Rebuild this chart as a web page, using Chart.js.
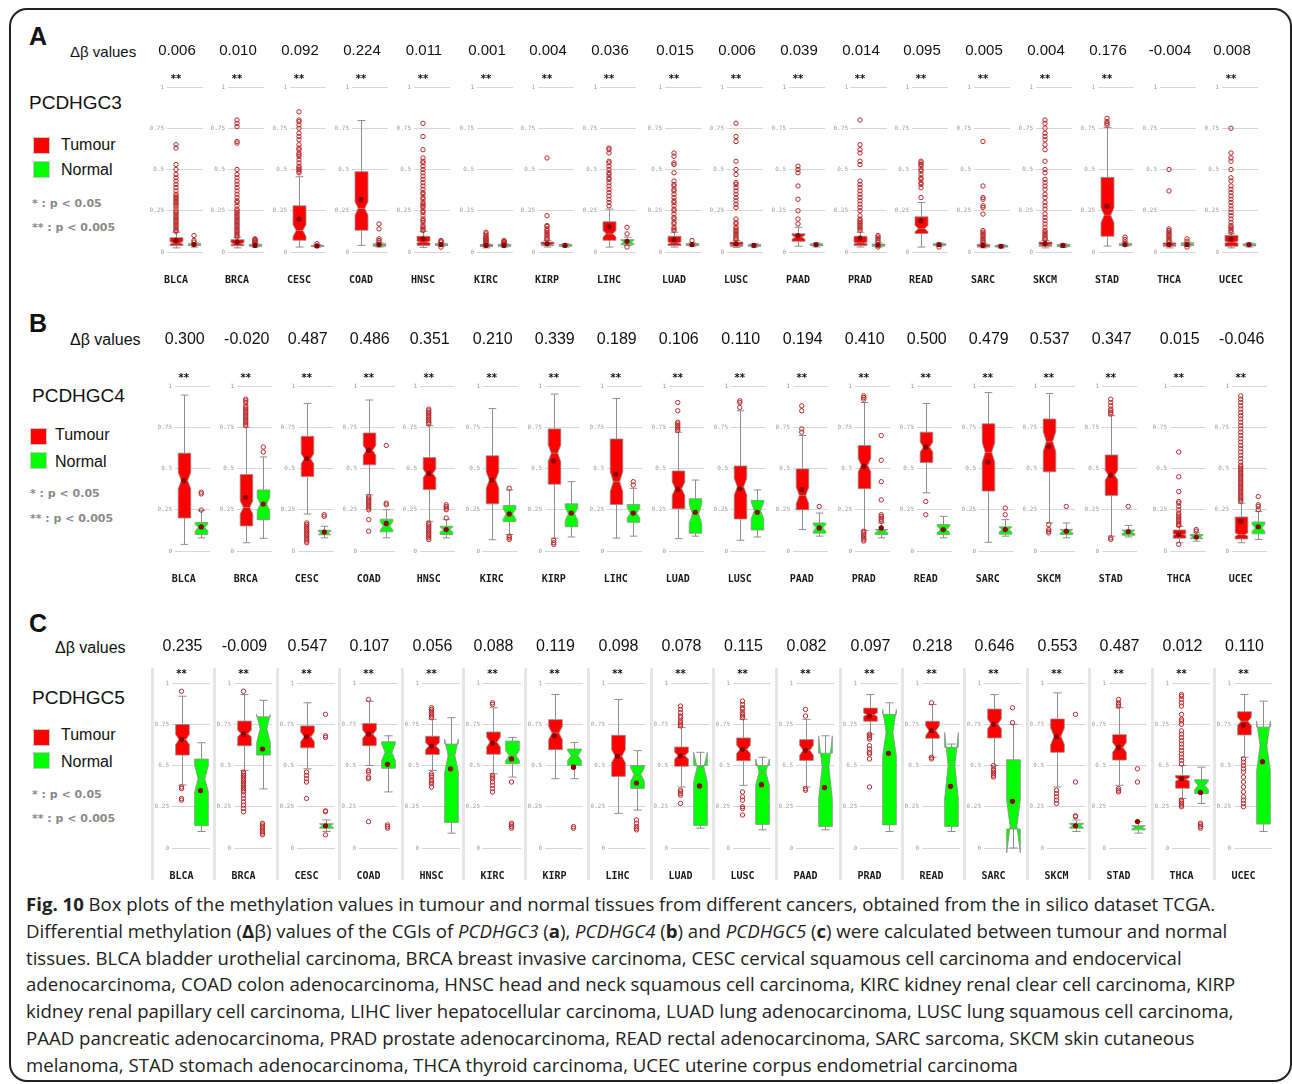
<!DOCTYPE html>
<html>
<head>
<meta charset="utf-8">
<script src="https://cdn.jsdelivr.net/npm/chart.js@4.4.1/dist/chart.umd.min.js"></script>
<style>
  html, body { margin: 0; padding: 0; background: #fff; }
  body { width: 1292px; height: 1084px; position: relative; overflow: hidden; font-family: "Liberation Sans", Arial, sans-serif; color: #111; }
  #frame { position: absolute; left: 9px; top: 8px; width: 1283px; height: 1074px; border: 2px solid #222; border-radius: 18px; box-sizing: border-box; }
  .t { position: absolute; white-space: nowrap; line-height: 1; transform: translateY(-50%); }
  .letter { font-weight: bold; font-size: 25px; }
  .gene { font-size: 19px; }
  .leg { font-size: 16px; }
  .pv { font-size: 11px; font-weight: bold; color: #8a8a8a; font-family: "DejaVu Sans", sans-serif; }
  .sq { position: absolute; width: 17px; height: 17px; box-sizing: border-box; border: 1px solid #c8c8c8; }
  #caption { position: absolute; left: 26px; top: 891px; font-family: "Open Sans", sans-serif; font-size: 18.6px; line-height: 26.8px; color: #222; white-space: nowrap; }
  canvas { position: absolute; }
</style>
</head>
<body>
<div id="frame"></div>

<!-- Panel A -->
<div class="t letter" style="left:29px;top:36px;">A</div>
<div class="t" style="left:70px;top:51px;font-size:15px;">Δβ values</div>
<div class="t gene" style="left:29px;top:102px;">PCDHGC3</div>
<div class="sq" style="left:33px;top:137px;background:#ff0000;"></div>
<div class="t leg" style="left:61px;top:145px;">Tumour</div>
<div class="sq" style="left:33px;top:161px;background:#00ff00;"></div>
<div class="t leg" style="left:61px;top:170px;">Normal</div>
<div class="t pv" style="left:32px;top:203px;">* : p &lt; 0.05</div>
<div class="t pv" style="left:32px;top:227px;">** : p &lt; 0.005</div>

<!-- Panel B -->
<div class="t letter" style="left:29px;top:323px;">B</div>
<div class="t" style="left:70px;top:340px;font-size:16px;">Δβ values</div>
<div class="t gene" style="left:32px;top:395px;">PCDHGC4</div>
<div class="sq" style="left:30px;top:428px;background:#ff0000;"></div>
<div class="t leg" style="left:55px;top:435px;">Tumour</div>
<div class="sq" style="left:30px;top:452px;background:#00ff00;"></div>
<div class="t leg" style="left:55px;top:462px;">Normal</div>
<div class="t pv" style="left:30px;top:493px;">* : p &lt; 0.05</div>
<div class="t pv" style="left:30px;top:518px;">** : p &lt; 0.005</div>

<!-- Panel C -->
<div class="t letter" style="left:29px;top:623px;">C</div>
<div class="t" style="left:55px;top:648px;font-size:16px;">Δβ values</div>
<div class="t gene" style="left:32px;top:697px;">PCDHGC5</div>
<div class="sq" style="left:33px;top:729px;background:#ff0000;"></div>
<div class="t leg" style="left:61px;top:735px;">Tumour</div>
<div class="sq" style="left:33px;top:752px;background:#00ff00;"></div>
<div class="t leg" style="left:61px;top:762px;">Normal</div>
<div class="t pv" style="left:32px;top:794px;">* : p &lt; 0.05</div>
<div class="t pv" style="left:32px;top:818px;">** : p &lt; 0.005</div>

<div id="caption">
<div><b>Fig. 10</b> Box plots of the methylation values in tumour and normal tissues from different cancers, obtained from the in silico dataset TCGA.</div>
<div>Differential methylation (<b>Δ</b>β) values of the CGIs of <i>PCDHGC3</i> (<b>a</b>), <i>PCDHGC4</i> (<b>b</b>) and <i>PCDHGC5</i> (<b>c</b>) were calculated between tumour and normal</div>
<div>tissues. BLCA bladder urothelial carcinoma, BRCA breast invasive carcinoma, CESC cervical squamous cell carcinoma and endocervical</div>
<div>adenocarcinoma, COAD colon adenocarcinoma, HNSC head and neck squamous cell carcinoma, KIRC kidney renal clear cell carcinoma, KIRP</div>
<div>kidney renal papillary cell carcinoma, LIHC liver hepatocellular carcinoma, LUAD lung adenocarcinoma, LUSC lung squamous cell carcinoma,</div>
<div>PAAD pancreatic adenocarcinoma, PRAD prostate adenocarcinoma, READ rectal adenocarcinoma, SARC sarcoma, SKCM skin cutaneous</div>
<div>melanoma, STAD stomach adenocarcinoma, THCA thyroid carcinoma, UCEC uterine corpus endometrial carcinoma</div>
</div>

<script>
// ---------- data ----------
const cancers = ['BLCA','BRCA','CESC','COAD','HNSC','KIRC','KIRP','LIHC','LUAD','LUSC','PAAD','PRAD','READ','SARC','SKCM','STAD','THCA','UCEC'];
const groups = ['Tumour', 'Normal'];
const yTicks = [0, 0.25, 0.5, 0.75, 1];

// Δβ (tumour - normal) per cancer
const deltaC3 = [0.006, 0.010, 0.092, 0.224, 0.011, 0.001, 0.004, 0.036, 0.015, 0.006, 0.039, 0.014, 0.095, 0.005, 0.004, 0.176, -0.004, 0.008];
const deltaC4 = [0.300, -0.020, 0.487, 0.486, 0.351, 0.210, 0.339, 0.189, 0.106, 0.110, 0.194, 0.410, 0.500, 0.479, 0.537, 0.347, 0.015, -0.046];
const deltaC5 = [0.235, -0.009, 0.547, 0.107, 0.056, 0.088, 0.119, 0.098, 0.078, 0.115, 0.082, 0.097, 0.218, 0.646, 0.553, 0.487, 0.012, 0.110];

// significance marks
const sigC3 = ['**','**','**','**','**','**','**','**','**','**','**','**','**','**','**','**','','**'];
const sigC4 = ['**','**','**','**','**','**','**','**','**','**','**','**','**','**','**','**','**','**'];
const sigC5 = ['**','**','**','**','**','**','**','**','**','**','**','**','**','**','**','**','**','**'];

// box statistics: [lower whisker, Q1, median, Q3, upper whisker, mean, notch half-height]
const tumourC3 = [
  [0.025,0.04,0.055,0.087,0.12,0.07,0.008],
  [0.025,0.038,0.05,0.075,0.09,0.06,0.006],
  [0.03,0.071,0.13,0.28,0.456,0.2,0.035],
  [0.04,0.132,0.264,0.487,0.797,0.318,0.04],
  [0.028,0.04,0.06,0.095,0.125,0.08,0.006],
  [0.025,0.033,0.037,0.045,0.05,0.04,0.003],
  [0.03,0.04,0.045,0.06,0.07,0.05,0.004],
  [0.03,0.071,0.11,0.183,0.26,0.152,0.02],
  [0.03,0.04,0.055,0.095,0.12,0.075,0.006],
  [0.028,0.035,0.042,0.06,0.07,0.05,0.003],
  [0.035,0.065,0.09,0.11,0.15,0.1,0.012],
  [0.03,0.04,0.055,0.095,0.12,0.085,0.005],
  [0.03,0.112,0.142,0.213,0.3,0.19,0.02],
  [0.025,0.03,0.035,0.045,0.05,0.04,0.003],
  [0.025,0.035,0.042,0.06,0.07,0.05,0.003],
  [0.036,0.095,0.223,0.452,0.755,0.278,0.045],
  [0.025,0.035,0.042,0.055,0.06,0.045,0.003],
  [0.025,0.035,0.06,0.1,0.11,0.08,0.006]
];
const normalC3 = [
  [0.03,0.04,0.045,0.05,0.055,0.045,0.003],
  [0.03,0.035,0.04,0.045,0.05,0.04,0.002],
  [0.03,0.033,0.037,0.04,0.045,0.037,0.002],
  [0.03,0.035,0.042,0.05,0.055,0.045,0.003],
  [0.035,0.04,0.045,0.05,0.055,0.045,0.003],
  [0.03,0.035,0.04,0.045,0.05,0.04,0.002],
  [0.03,0.035,0.04,0.045,0.05,0.04,0.002],
  [0.04,0.045,0.06,0.075,0.09,0.065,0.01],
  [0.035,0.04,0.045,0.05,0.055,0.045,0.003],
  [0.03,0.035,0.04,0.045,0.05,0.04,0.002],
  [0.03,0.038,0.042,0.05,0.055,0.045,0.003],
  [0.03,0.035,0.04,0.048,0.055,0.042,0.003],
  [0.035,0.04,0.045,0.05,0.055,0.045,0.002],
  [0.025,0.03,0.035,0.04,0.045,0.035,0.002],
  [0.028,0.033,0.038,0.045,0.05,0.04,0.002],
  [0.035,0.04,0.045,0.05,0.055,0.045,0.003],
  [0.035,0.04,0.047,0.055,0.06,0.045,0.004],
  [0.03,0.037,0.042,0.05,0.055,0.045,0.003]
];
const tumourOutC3 = [
  [0.125,0.13,0.14,0.15,0.16,0.17,0.18,0.19,0.2,0.21,0.22,0.23,0.24,0.25,0.265,0.28,0.29,0.3,0.31,0.32,0.33,0.34,0.35,0.37,0.39,0.41,0.43,0.45,0.47,0.5,0.53,0.63,0.65],
  [0.09,0.1,0.11,0.12,0.13,0.14,0.15,0.16,0.17,0.18,0.19,0.2,0.21,0.22,0.23,0.24,0.25,0.26,0.28,0.3,0.31,0.33,0.35,0.37,0.39,0.41,0.43,0.45,0.47,0.5,0.66,0.67,0.76,0.78,0.8],
  [0.48,0.49,0.5,0.51,0.52,0.54,0.56,0.58,0.59,0.6,0.62,0.63,0.65,0.68,0.7,0.72,0.75,0.77,0.79,0.8,0.85],
  [],
  [0.13,0.14,0.15,0.16,0.18,0.19,0.2,0.22,0.24,0.25,0.27,0.28,0.29,0.3,0.32,0.33,0.35,0.36,0.38,0.4,0.42,0.44,0.46,0.48,0.5,0.52,0.54,0.55,0.57,0.62,0.7,0.78],
  [0.055,0.06,0.065,0.07,0.075,0.08,0.085,0.09,0.1,0.11,0.12],
  [0.075,0.08,0.09,0.1,0.11,0.12,0.13,0.14,0.155,0.16,0.22,0.57],
  [0.28,0.3,0.32,0.34,0.36,0.38,0.4,0.42,0.44,0.45,0.47,0.48,0.5,0.52,0.54,0.55,0.6,0.62,0.63],
  [0.13,0.14,0.15,0.17,0.18,0.2,0.21,0.23,0.25,0.26,0.28,0.3,0.31,0.33,0.35,0.37,0.38,0.4,0.41,0.43,0.48,0.53,0.54,0.58,0.6],
  [0.075,0.08,0.09,0.1,0.11,0.12,0.13,0.14,0.15,0.17,0.18,0.2,0.27,0.29,0.31,0.33,0.35,0.37,0.39,0.41,0.42,0.47,0.5,0.55,0.67,0.7,0.78],
  [0.17,0.2,0.25,0.32,0.4,0.48,0.5,0.52],
  [0.13,0.14,0.15,0.16,0.17,0.18,0.19,0.2,0.22,0.25,0.27,0.29,0.31,0.33,0.35,0.37,0.39,0.41,0.43,0.53,0.55,0.6,0.62,0.65,0.8],
  [0.33,0.39,0.41,0.42,0.44,0.45,0.47,0.49,0.5,0.52,0.53,0.54,0.55],
  [0.055,0.06,0.07,0.08,0.09,0.1,0.11,0.12,0.13,0.23,0.27,0.28,0.32,0.33,0.4,0.67],
  [0.075,0.08,0.09,0.1,0.11,0.12,0.13,0.15,0.17,0.19,0.21,0.23,0.26,0.28,0.3,0.33,0.35,0.38,0.4,0.42,0.44,0.48,0.5,0.55,0.62,0.65,0.68,0.7,0.72,0.75,0.78,0.8],
  [0.77,0.78,0.79,0.81],
  [0.065,0.07,0.08,0.09,0.1,0.11,0.12,0.13,0.14,0.37,0.5],
  [0.12,0.13,0.14,0.15,0.16,0.18,0.2,0.22,0.24,0.26,0.28,0.3,0.32,0.34,0.36,0.38,0.4,0.43,0.45,0.5,0.55,0.57,0.6,0.75]
];
const normalOutC3 = [
  [0.06,0.07,0.1],[0.055,0.06,0.065,0.07,0.075,0.08],[0.05],[0.06,0.07,0.08,0.14,0.17],[0.03,0.06,0.065,0.07],
  [0.05,0.055,0.06,0.065,0.07],[],[0.03,0.11,0.15],[0.07],[],[],[0.03,0.06,0.07,0.08,0.09,0.1],[0.03],[],[],
  [0.06,0.075,0.09],[0.03,0.065,0.08],[]
];

const tumourC4 = [
  [0.04,0.2,0.427,0.593,0.945,0.427,0.05],
  [0.05,0.152,0.264,0.463,0.75,0.325,0.04],
  [0.224,0.451,0.559,0.695,0.894,0.56,0.03],
  [0.34,0.522,0.61,0.715,0.915,0.61,0.03],
  [0.18,0.372,0.47,0.566,0.76,0.47,0.025],
  [0.068,0.286,0.43,0.577,0.863,0.43,0.05],
  [0.078,0.405,0.593,0.74,0.951,0.546,0.05],
  [0.078,0.282,0.42,0.679,0.924,0.464,0.06],
  [0.075,0.256,0.378,0.485,0.72,0.375,0.04],
  [0.065,0.194,0.389,0.515,0.85,0.378,0.05],
  [0.13,0.25,0.337,0.497,0.7,0.372,0.05],
  [0.125,0.378,0.52,0.64,0.9,0.514,0.04],
  [0.353,0.536,0.63,0.72,0.894,0.63,0.03],
  [0.053,0.363,0.598,0.771,0.96,0.539,0.06],
  [0.17,0.48,0.663,0.8,0.955,0.633,0.06],
  [0.09,0.337,0.46,0.582,0.82,0.46,0.03],
  [0.05,0.078,0.1,0.127,0.15,0.1,0.004],
  [0.05,0.073,0.1,0.206,0.29,0.18,0.01]
];
const normalC4 = [
  [0.08,0.1,0.142,0.173,0.245,0.146,0.02],
  [0.077,0.19,0.285,0.37,0.57,0.285,0.04],
  [0.08,0.098,0.11,0.126,0.15,0.115,0.01],
  [0.08,0.116,0.152,0.193,0.25,0.167,0.025],
  [0.08,0.1,0.13,0.15,0.19,0.13,0.015],
  [0.1,0.178,0.225,0.276,0.37,0.225,0.03],
  [0.085,0.147,0.225,0.286,0.42,0.23,0.04],
  [0.09,0.174,0.23,0.282,0.38,0.23,0.03],
  [0.09,0.108,0.225,0.317,0.43,0.235,0.06],
  [0.085,0.127,0.245,0.307,0.37,0.235,0.05],
  [0.09,0.108,0.14,0.17,0.23,0.14,0.02],
  [0.08,0.1,0.12,0.13,0.17,0.14,0.01],
  [0.08,0.1,0.13,0.16,0.21,0.13,0.02],
  [0.09,0.102,0.13,0.147,0.19,0.13,0.015],
  [0.08,0.1,0.12,0.13,0.17,0.12,0.01],
  [0.085,0.096,0.115,0.127,0.155,0.118,0.01],
  [0.06,0.075,0.085,0.1,0.11,0.085,0.008],
  [0.07,0.104,0.14,0.176,0.24,0.147,0.02]
];
const tumourOutC4 = [
  [],
  [0.76,0.77,0.78,0.79,0.8,0.81,0.82,0.83,0.84,0.85,0.86,0.87,0.88,0.9,0.91,0.92],
  [0.05,0.06,0.07,0.08,0.09,0.1,0.11,0.12,0.13,0.14,0.15,0.16,0.17],
  [0.12,0.19,0.25,0.26,0.27,0.28,0.29,0.3,0.31,0.32,0.33],
  [0.07,0.08,0.09,0.1,0.11,0.12,0.13,0.14,0.15,0.16,0.17,0.77,0.78,0.79,0.8,0.81,0.82,0.83,0.84,0.85,0.86],
  [],
  [0.04,0.05,0.065],
  [],
  [0.73,0.74,0.75,0.76,0.77,0.78,0.85,0.9],
  [0.87,0.9,0.91],
  [0.72,0.74,0.85,0.88],
  [0.06,0.07,0.08,0.09,0.1,0.11,0.12,0.92,0.93,0.94],
  [0.22,0.3],
  [],
  [0.11,0.12,0.13,0.16],
  [0.07,0.08,0.83,0.84,0.85,0.86,0.88,0.9,0.92],
  [0.04,0.155,0.16,0.17,0.18,0.19,0.2,0.21,0.22,0.23,0.25,0.27,0.29,0.3,0.36,0.45,0.6],
  [0.3,0.31,0.32,0.33,0.34,0.35,0.36,0.37,0.38,0.39,0.4,0.41,0.42,0.43,0.44,0.45,0.46,0.47,0.48,0.49,0.5,0.51,0.52,0.54,0.56,0.58,0.6,0.62,0.64,0.66,0.68,0.7,0.72,0.74,0.76,0.78,0.8,0.82,0.84,0.86,0.88,0.9,0.92,0.94]
];
const normalOutC4 = [
  [0.248,0.346,0.356],[0.6,0.63],[0.21,0.22],[0.28,0.29,0.64],[0.2,0.25,0.26,0.27,0.28],
  [0.07,0.08,0.09,0.38],[],[0.4,0.42],[],[],[0.27],[0.18,0.19,0.2,0.21,0.22,0.31,0.42,0.55,0.7],
  [],[0.22,0.26],[0.27],[0.27],[0.12,0.13],[0.25,0.27,0.28,0.33]
];

const tumourC5 = [
  [0.382,0.563,0.658,0.748,0.92,0.658,0.03],
  [0.47,0.62,0.694,0.769,0.93,0.69,0.02],
  [0.48,0.607,0.674,0.74,0.88,0.674,0.03],
  [0.5,0.62,0.69,0.755,0.89,0.69,0.025],
  [0.47,0.566,0.618,0.677,0.78,0.618,0.02],
  [0.45,0.568,0.642,0.703,0.85,0.636,0.03],
  [0.42,0.596,0.697,0.778,0.93,0.68,0.04],
  [0.21,0.434,0.556,0.683,0.9,0.556,0.04],
  [0.37,0.495,0.56,0.612,0.73,0.557,0.02],
  [0.38,0.529,0.598,0.667,0.78,0.598,0.025],
  [0.37,0.531,0.592,0.657,0.78,0.592,0.03],
  [0.69,0.768,0.808,0.848,0.93,0.8,0.01],
  [0.55,0.665,0.711,0.768,0.87,0.711,0.03],
  [0.5,0.667,0.752,0.842,0.93,0.75,0.03],
  [0.37,0.58,0.677,0.782,0.94,0.675,0.05],
  [0.38,0.533,0.61,0.687,0.85,0.61,0.03],
  [0.3,0.362,0.416,0.44,0.5,0.42,0.01],
  [0.55,0.685,0.768,0.826,0.93,0.745,0.025]
];
const normalC5 = [
  [0.1,0.135,0.42,0.539,0.638,0.348,0.08],
  [0.358,0.563,0.724,0.795,0.895,0.6,0.085],
  [0.1,0.12,0.135,0.147,0.17,0.135,0.01],
  [0.34,0.483,0.58,0.644,0.68,0.507,0.05],
  [0.09,0.155,0.56,0.63,0.79,0.48,0.1],
  [0.43,0.511,0.56,0.648,0.67,0.54,0.03],
  [0.42,0.501,0.56,0.6,0.64,0.49,0.03],
  [0.23,0.36,0.445,0.5,0.59,0.394,0.04],
  [0.12,0.137,0.49,0.5,0.58,0.376,0.09],
  [0.11,0.143,0.46,0.5,0.55,0.384,0.08],
  [0.11,0.13,0.49,0.575,0.68,0.366,0.19],
  [0.1,0.14,0.7,0.81,0.88,0.574,0.14],
  [0.1,0.131,0.5,0.61,0.63,0.374,0.2],
  [0.0,0.115,0.13,0.535,0.75,0.283,0.16],
  [0.1,0.12,0.135,0.15,0.17,0.135,0.01],
  [0.09,0.11,0.125,0.135,0.16,0.16,0.01],
  [0.27,0.331,0.38,0.414,0.49,0.337,0.025],
  [0.1,0.145,0.62,0.733,0.89,0.523,0.15]
];
const tumourOutC5 = [
  [0.29,0.3,0.36,0.37,0.95],
  [0.22,0.24,0.26,0.28,0.3,0.32,0.34,0.35,0.36,0.37,0.38,0.39,0.4,0.41,0.42,0.43,0.44,0.45,0.46,0.95],
  [0.3,0.4,0.42,0.44,0.46],
  [0.16,0.42,0.43,0.46,0.47,0.9],
  [0.37,0.39,0.4,0.41,0.43,0.44,0.45,0.79,0.8,0.81,0.82,0.83,0.84,0.85],
  [0.34,0.36,0.38,0.4,0.42,0.43,0.44,0.87,0.88],
  [],
  [],
  [0.27,0.32,0.33,0.34,0.35,0.74,0.75,0.76,0.77,0.79,0.8,0.82,0.84,0.86],
  [0.2,0.24,0.25,0.29,0.31,0.34,0.79,0.8,0.81,0.82,0.84,0.85,0.87,0.89],
  [0.35,0.36,0.8,0.84],
  [0.37,0.54,0.57,0.58,0.6,0.62,0.66,0.67,0.68,0.69],
  [0.54,0.55,0.88],
  [0.43,0.44,0.45,0.46,0.47,0.48,0.5],
  [0.27,0.29,0.31,0.33,0.35],
  [0.34,0.35,0.36,0.86,0.87,0.88,0.9],
  [0.25,0.26,0.27,0.28,0.29,0.51,0.53,0.55,0.57,0.59,0.61,0.63,0.65,0.67,0.69,0.71,0.75,0.77,0.78,0.81,0.86,0.88,0.9,0.92,0.93],
  [0.25,0.27,0.29,0.31,0.34,0.37,0.4,0.43,0.46,0.48,0.5,0.52,0.54]
];
const normalOutC5 = [
  [],[0.08,0.09,0.1,0.11,0.12,0.13,0.14,0.15],[0.08,0.22,0.225,0.67,0.68,0.81],[0.12,0.13,0.14],[],
  [0.12,0.13,0.14,0.15,0.4],[0.12,0.13,0.49],[0.11,0.12,0.13,0.15,0.17],[],[],[],[],[],[0.76,0.85],
  [0.19,0.195,0.4,0.81],[0.4,0.48],[0.12,0.13,0.14,0.15],[]
];

// ---------- layout (pixel placement of each small plot) ----------
const AXIS_W = 22, PLOT_H = 165, PAD_TOP = 56, PAD_BOTTOM = 44, RIGHT_PAD = 2;
const panels = [
  { delta: deltaC3, sig: sigC3, tumour: tumourC3, normal: normalC3, tumourOut: tumourOutC3, normalOut: normalOutC3,
    top: 87, plotW: 39, deltaSize: 15, deltaGap: 36, starGap: 8, separators: false,
    lefts: [167,228,290,352,414,477,538,600,665,727,789,851,912,974,1036,1098,1160,1222] },
  { delta: deltaC4, sig: sigC4, tumour: tumourC4, normal: normalC4, tumourOut: tumourOutC4, normalOut: normalOutC4,
    top: 386, plotW: 38, deltaSize: 16, deltaGap: 46, starGap: 8, separators: false,
    lefts: [175,237,298,360,420,483,545,607,669,731,793,855,917,979,1040,1102,1170,1232] },
  { delta: deltaC5, sig: sigC5, tumour: tumourC5, normal: normalC5, tumourOut: tumourOutC5, normalOut: normalOutC5,
    top: 683, plotW: 41, deltaSize: 16, deltaGap: 36, starGap: 9, separators: true,
    lefts: [172,234,297,359,422,483,545,608,671,733,796,860,922,984,1047,1109,1172,1234] }
];

const FILL = ['#ff0000', '#00ff00'];
const EDGE = '#8e8e8e';

// Notched box + whiskers, drawn on the geometry of the floating bars
const notchedBoxes = {
  id: 'notchedBoxes',
  afterDatasetDraw(chart, args) {
    const ds = chart.data.datasets[args.index];
    if (!ds.boxStats) return;
    const ctx = chart.ctx, y = chart.scales.y;
    args.meta.data.forEach((bar, i) => {
      const s = ds.boxStats[i];
      const cx = Math.round(bar.x) + 0.5, hw = bar.width / 2;
      const Y = v => y.getPixelForValue(v);
      const capW = hw * 0.6;
      ctx.save();
      ctx.strokeStyle = EDGE;
      ctx.lineWidth = 1;
      // whiskers and caps
      ctx.beginPath();
      ctx.moveTo(cx, Y(s[0])); ctx.lineTo(cx, Y(s[1]));
      ctx.moveTo(cx, Y(s[3])); ctx.lineTo(cx, Y(s[4]));
      ctx.moveTo(cx - capW, Y(s[0])); ctx.lineTo(cx + capW, Y(s[0]));
      ctx.moveTo(cx - capW, Y(s[4])); ctx.lineTo(cx + capW, Y(s[4]));
      ctx.stroke();
      // notched box
      const yq1 = Y(s[1]), yq3 = Y(s[3]), ym = Y(s[2]);
      const ynl = Y(s[2] - s[6]), ynh = Y(s[2] + s[6]);
      const l = cx - hw, r = cx + hw;
      ctx.beginPath();
      ctx.moveTo(l, yq1); ctx.lineTo(l, ynl); ctx.lineTo(cx - hw / 2, ym); ctx.lineTo(l, ynh); ctx.lineTo(l, yq3);
      ctx.lineTo(r, yq3); ctx.lineTo(r, ynh); ctx.lineTo(cx + hw / 2, ym); ctx.lineTo(r, ynl); ctx.lineTo(r, yq1);
      ctx.closePath();
      ctx.fillStyle = ds.boxColors[i];
      ctx.fill();
      ctx.lineWidth = 0.8;
      ctx.stroke();
      // median
      ctx.beginPath();
      ctx.moveTo(cx - hw / 2, ym); ctx.lineTo(cx + hw / 2, ym);
      ctx.stroke();
      ctx.restore();
    });
  }
};

// Header value, significance stars, cancer label and column separator
const panelText = {
  id: 'panelText',
  beforeDraw(chart, args, o) {
    if (!o.separator) return;
    const { ctx, chartArea } = chart;
    ctx.save();
    ctx.fillStyle = '#e6e6e6';
    ctx.fillRect(chartArea.left - 21, chartArea.top - 15, 3, chartArea.bottom - chartArea.top + 47);
    ctx.restore();
  },
  afterDraw(chart, args, o) {
    const { ctx, chartArea, scales } = chart;
    const xT = scales.x.getPixelForValue(0);
    ctx.save();
    ctx.textAlign = 'center';
    ctx.textBaseline = 'middle';
    ctx.fillStyle = '#111';
    ctx.font = o.deltaSize + 'px "Liberation Sans", Arial, sans-serif';
    ctx.fillText(o.delta, xT + 1, chartArea.top - o.deltaGap);
    if (o.sig) {
      ctx.font = 'bold 10px "DejaVu Sans", sans-serif';
      ctx.fillText(o.sig, xT, chartArea.top - o.starGap);
    }
    ctx.font = 'bold 10px "DejaVu Sans Mono", monospace';
    ctx.fillStyle = '#1a1a1a';
    ctx.fillText(o.label, xT, chartArea.bottom + 28);
    ctx.restore();
  }
};

function miniChart(p, i) {
  const canvas = document.createElement('canvas');
  const w = AXIS_W + p.plotW + RIGHT_PAD;
  const h = PAD_TOP + PLOT_H + PAD_BOTTOM;
  canvas.width = w; canvas.height = h;
  canvas.style.left = (p.lefts[i] - AXIS_W) + 'px';
  canvas.style.top = (p.top - PAD_TOP) + 'px';
  canvas.style.width = w + 'px';
  canvas.style.height = h + 'px';
  document.body.appendChild(canvas);

  const t = p.tumour[i], n = p.normal[i];
  const outliers = [];
  p.tumourOut[i].forEach(v => outliers.push({ x: groups[0], y: v }));
  p.normalOut[i].forEach(v => outliers.push({ x: groups[1], y: v }));

  new Chart(canvas, {
    type: 'bar',
    data: {
      labels: groups,
      datasets: [
        {
          type: 'bar',
          data: [[t[1], t[3]], [n[1], n[3]]],
          boxStats: [t, n],
          boxColors: FILL,
          backgroundColor: 'rgba(0,0,0,0)',
          borderWidth: 0,
          barPercentage: 0.72,
          categoryPercentage: 1,
          order: 3
        },
        {
          type: 'scatter',
          data: outliers,
          pointStyle: 'circle',
          pointRadius: 2.2,
          pointBorderWidth: 1,
          pointBorderColor: '#b8292b',
          pointBackgroundColor: 'rgba(0,0,0,0)',
          clip: false,
          order: 2
        },
        {
          type: 'scatter',
          data: [{ x: groups[0], y: t[5] }, { x: groups[1], y: n[5] }],
          pointStyle: 'circle',
          pointRadius: 2.6,
          pointBorderWidth: 0,
          pointBackgroundColor: '#8b0000',
          clip: false,
          order: 1
        }
      ]
    },
    options: {
      responsive: false,
      devicePixelRatio: 1,
      animation: false,
      events: [],
      layout: { padding: { top: PAD_TOP, bottom: PAD_BOTTOM, left: 0, right: RIGHT_PAD } },
      plugins: {
        legend: { display: false },
        tooltip: { enabled: false },
        panelText: {
          delta: p.delta[i].toFixed(3),
          sig: p.sig[i],
          label: cancers[i],
          deltaSize: p.deltaSize,
          deltaGap: p.deltaGap,
          starGap: p.starGap,
          separator: p.separators
        }
      },
      scales: {
        x: { type: 'category', display: false, offset: true },
        y: {
          min: 0, max: 1,
          afterBuildTicks: s => { s.ticks = yTicks.map(v => ({ value: v })); },
          afterFit: s => { s.width = AXIS_W; },
          ticks: {
            callback: v => String(v),
            font: { family: '"DejaVu Sans Mono", monospace', size: 6 },
            color: '#9c9c9c',
            padding: 3
          },
          grid: { color: '#d6d6d6', lineWidth: 1, drawTicks: false },
          border: { display: false }
        }
      }
    },
    plugins: [notchedBoxes, panelText]
  });
}

panels.forEach(p => cancers.forEach((c, i) => miniChart(p, i)));
</script>
</body>
</html>
